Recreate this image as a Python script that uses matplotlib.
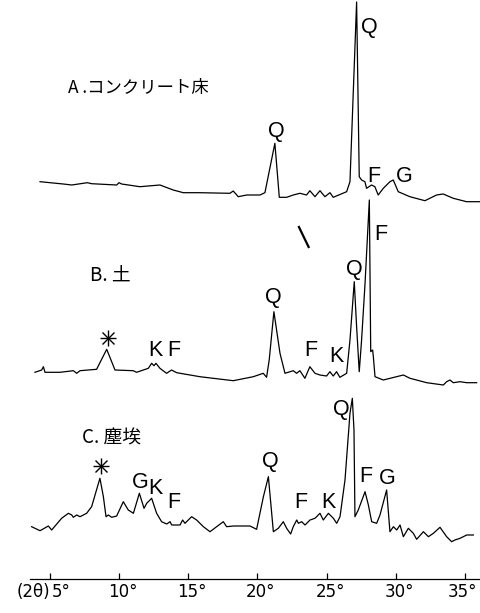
import matplotlib.pyplot as plt

# XRD patterns (2theta in degrees, intensity in arbitrary units)
two_theta_A = [4.28, 5.96, 6.57, 7.70, 8.01, 9.82, 9.99, 10.18, 11.50, 12.95, 13.91, 14.64,
               15.84, 18.01, 18.25, 18.61, 19.22, 20.18, 20.54, 21.26, 21.58, 22.11, 22.59,
               23.07, 23.55, 23.79, 24.16, 24.52, 24.88, 25.24, 25.48, 26.45, 26.69, 27.17,
               27.36, 27.53, 27.77, 27.89, 28.25, 28.49, 28.73, 29.10, 29.58, 29.82, 30.18,
               31.02, 32.11, 32.95, 33.43, 34.16, 35.12, 36.08]
intensity_A = [23.3, 21, 20, 22.3, 21.3, 20, 22.3, 21, 18.3, 20, 15, 12.3,
               12.3, 11.7, 14, 8.3, 10, 10, 12.3, 61.7, 7.7, 7.7, 10,
               11.7, 10, 14.3, 8.3, 14.3, 8.3, 12.3, 7.7, 13.3, 23.3, 203,
               28.3, 25, 23.3, 16.7, 20, 18.3, 10, 16.7, 23.3, 25, 13.3,
               8.3, 4.3, 10, 11, 6.7, 3.3, 3.3]

two_theta_B = [3.91, 4.40, 4.52, 4.64, 5.72, 6.69, 6.93, 7.17, 8.37, 9.10, 9.70, 11.02,
               11.26, 12.11, 12.35, 12.52, 12.66, 12.95, 13.43, 13.79, 14.16, 15.84, 18.25,
               19.70, 20.42, 20.66, 20.85, 21.19, 21.63, 21.99, 22.59, 22.83, 23.07, 23.43,
               23.79, 24.16, 24.52, 25.00, 25.24, 25.48, 25.72, 25.96, 26.45, 26.69, 27.00,
               27.17, 27.36, 27.53, 27.78, 28.09, 28.19, 28.33, 28.38, 28.50, 29.10, 30.55,
               31.03, 32.24, 33.44, 33.68, 33.92, 34.16, 34.65, 35.13, 35.85]
intensity_B = [17.7, 20, 23.3, 17.7, 17.7, 19.3, 16.7, 19.3, 20.7, 40.7, 20, 19.3,
               17.7, 21.7, 26.7, 24.3, 26.7, 21.7, 16.7, 20, 17.3, 13.3, 9.3,
               13.3, 16.7, 12.7, 30, 78.3, 36.7, 16.7, 19.3, 16.7, 19.3, 11.7,
               23.3, 16.7, 15, 14, 18.3, 14, 18.3, 12.7, 16.7, 50, 108.3,
               63.3, 18.3, 50, 106.7, 190, 38.3, 40, 33.3, 13.3, 10, 15,
               11.7, 7.3, 5, 8.3, 10, 7.3, 8.3, 7.3, 7.3]

two_theta_C = [3.67, 4.28, 4.88, 5.12, 5.84, 6.33, 6.57, 6.69, 6.93, 7.17, 7.65, 8.01,
               8.61, 8.86, 9.05, 9.22, 9.46, 9.82, 10.30, 10.66, 11.03, 11.46, 11.80, 11.99,
               12.35, 12.71, 13.07, 13.44, 13.68, 13.80, 14.40, 14.59, 14.76, 15.24, 15.60,
               16.09, 16.57, 17.05, 17.53, 17.77, 18.26, 19.46, 19.94, 20.43, 20.79, 21.03,
               21.15, 21.51, 21.87, 22.11, 22.40, 22.59, 22.84, 22.96, 23.20, 23.44, 23.80,
               24.16, 24.52, 24.76, 25.13, 25.49, 25.73, 25.97, 26.33, 26.69, 26.86, 26.98,
               27.05, 27.29, 27.78, 28.02, 28.26, 28.62, 28.86, 29.34, 29.58, 29.83, 30.07,
               30.31, 30.55, 30.91, 31.27, 31.51, 32.00, 32.36, 32.72, 33.20, 33.68, 34.04,
               34.28, 34.65, 35.13, 35.61]
intensity_C = [18.3, 14.3, 19, 15, 26.7, 31.7, 30, 27.7, 30, 28.3, 31.7, 38.3,
               66.7, 48.3, 28.3, 30, 27.7, 29, 43.3, 35, 31.7, 51.7, 36.7, 41.7,
               46.7, 31.7, 23.3, 21, 23.3, 20, 20, 25, 21.7, 28.3, 25,
               18.3, 13.3, 18.3, 23.3, 18.3, 19, 19, 15.7, 48.3, 68.3, 31.7,
               13.3, 16.7, 23.3, 16.7, 11, 18.3, 25, 21.7, 23.3, 20, 25,
               26.7, 31.7, 25, 31.7, 26.7, 21.7, 28.3, 65, 131.7, 146.7, 115,
               28.3, 35, 53.3, 40, 23.3, 21.7, 30, 55, 13.3, 18.3, 15,
               20, 8.3, 16.7, 11.7, 5.7, 13.3, 8.3, 11.7, 17.7, 8.3, 3.3,
               5, 6.7, 10, 10]

# peak labels: (2theta, label, height above baseline)
labels_A = [(21.34, "Q", 74), (28.07, "Q", 177), (28.43, "F", 29), (30.6, "G", 29)]
labels_B = [(12.59, "K", 39), (13.97, "F", 39), (21.12, "Q", 92), (23.87, "F", 39),
            (25.68, "K", 34), (26.98, "Q", 121), (28.93, "F", 156)]
labels_C = [(11.51, "G", 63), (12.59, "K", 57), (13.97, "F", 42), (20.91, "Q", 83),
            (23.15, "F", 42), (25.1, "K", 43), (26.04, "Q", 136), (27.85, "F", 68),
            (29.37, "G", 67)]
star_B = (9.19, 52)
star_C = (8.69, 79)

tick_deg = [5, 10, 15, 20, 25, 30, 35]
tick_labels = ["5°", "10°", "15°", "20°", "25°", "30°", "35°"]

# stray pen stroke on the original sheet
stroke_x = [23.0, 23.7]
stroke_y = [227, 247]

# vertical layout (pixel rows from top)
base_A, base_B, base_C = 205, 390, 545
axis_y = 579

fig = plt.figure(figsize=(4.81, 6.13), dpi=100)
ax = fig.add_axes([0, 0, 1, 1])
ax.set_xlim(5 - 50 / 13.83, 5 + 431 / 13.83)
ax.set_ylim(613, 0)
ax.axis("off")

letter_font = dict(family=["Liberation Sans", "DejaVu Sans"], fontsize=15.5,
                   ha="center", va="center")
title_font = dict(family=["Noto Sans CJK JP", "DejaVu Sans"],
                  ha="left", va="center")

for tt, inten, base, labels in [(two_theta_A, intensity_A, base_A, labels_A),
                               (two_theta_B, intensity_B, base_B, labels_B),
                               (two_theta_C, intensity_C, base_C, labels_C)]:
    ax.plot(tt, [base - v for v in inten], color="black", lw=0.9)
    for x, lab, h in labels:
        ax.text(x, base - h, lab, **letter_font)

for (x, h), base in [(star_B, base_B), (star_C, base_C)]:
    ax.plot(x, base - h, marker="+", ms=12, mew=1.0, color="black")
    ax.plot(x, base - h, marker="x", ms=9, mew=1.0, color="black")

ax.text(6.30, 88, "A .コンクリート床", fontsize=12.5, **title_font)
ax.text(7.89, 276, "B. 土", fontsize=13.5, **title_font)
ax.text(7.31, 438, "C. 塵埃", fontsize=13.5, **title_font)

ax.plot(stroke_x, stroke_y, color="black", lw=1.6)

# 2theta axis
ax.plot([5 - 20 / 13.83, 5 + 431 / 13.83], [axis_y, axis_y], color="black", lw=0.9)
ax.vlines(tick_deg, axis_y - 6, axis_y, color="black", lw=0.9)
for d, lab in zip(tick_deg, tick_labels):
    if d == 5:
        ax.text(d + 0.1, axis_y + 13, lab, fontsize=12, ha="left", va="center")
    elif d == 35:
        ax.text(d + 0.9, axis_y + 13, lab, fontsize=12, ha="right", va="center")
    else:
        ax.text(d + 0.25, axis_y + 13, lab, fontsize=12, ha="center", va="center")
ax.text(5, axis_y + 13, "(2θ)", fontsize=12, ha="right", va="center")

fig.savefig("out.png", dpi=100)
